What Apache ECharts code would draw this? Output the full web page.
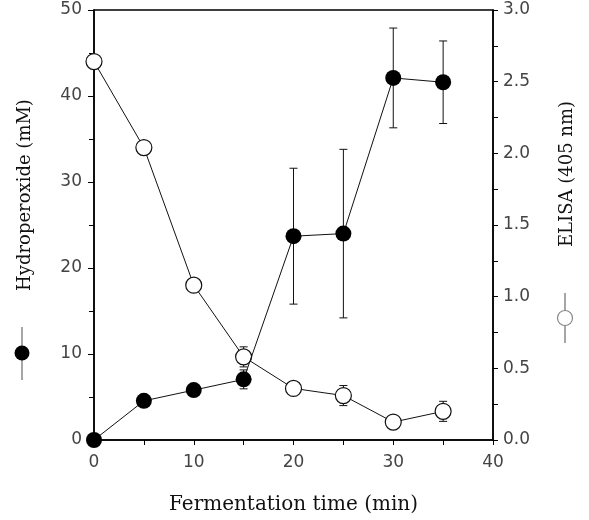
<!DOCTYPE html>
<html><head><meta charset="utf-8">
<script src="https://cdn.jsdelivr.net/npm/echarts@6/dist/echarts.min.js"></script>
<style>html,body{margin:0;padding:0;background:#fff}#c{width:589px;height:520px}</style>
</head><body><div id="c"></div>
<script>
const times = [0, 5, 10, 15, 20, 25, 30, 35];
const hydroperoxide = [0, 4.55, 5.8, 7.05, 23.7, 24.0, 42.1, 41.6];
const hydroErr = [0, 0, 0, 1.1, 7.9, 9.8, 5.8, 4.8];
const elisa = [2.64, 2.04, 1.08, 0.58, 0.36, 0.31, 0.125, 0.20];
const elisaErr = [0, 0, 0, 0.07, 0, 0.07, 0, 0.07];
const xTitle = 'Fermentation time (min)';
const leftTitle = 'Hydroperoxide (mM)';
const rightTitle = 'ELISA (405 nm)';

const chart = echarts.init(document.getElementById('c'));
const tickFont = {fontFamily: 'DejaVu Sans', fontSize: 17, color: '#444'};
const axisLine = {lineStyle: {color: '#000', width: 1.5}};
const titleFont = '18px "DejaVu Serif"';

function errSeries(vals, errs, yIdx) {
  const data = times.map((t, i) => [t, vals[i], errs[i]]).filter(d => d[2] > 0);
  return {
    type: 'custom', yAxisIndex: yIdx, z: 1, silent: true,
    data: data,
    renderItem: function (params, api) {
      const x = api.value(0), y = api.value(1), e = api.value(2);
      const top = api.coord([x, y + e]);
      const bot = api.coord([x, y - e]);
      const cw = 4;
      const st = {stroke: '#111', lineWidth: 1};
      return {type: 'group', children: [
        {type: 'line', shape: {x1: top[0], y1: top[1], x2: bot[0], y2: bot[1]}, style: st},
        {type: 'line', shape: {x1: top[0] - cw, y1: top[1], x2: top[0] + cw, y2: top[1]}, style: st},
        {type: 'line', shape: {x1: bot[0] - cw, y1: bot[1], x2: bot[0] + cw, y2: bot[1]}, style: st}
      ]};
    }
  };
}

chart.setOption({
  animation: false,
  grid: {left: 94, right: 96, top: 10, bottom: 78, show: true, borderColor: '#000', borderWidth: 1.5, backgroundColor: 'transparent'},
  xAxis: {
    type: 'value', min: 0, max: 40, interval: 10,
    axisLine: axisLine, splitLine: {show: false},
    axisTick: {show: true, length: 5, lineStyle: {color: '#000'}},
    minorTick: {show: true, splitNumber: 2, length: 5, lineStyle: {color: '#000'}},
    axisLabel: Object.assign({margin: 14}, tickFont),
    name: xTitle, nameLocation: 'middle', nameGap: 55,
    nameTextStyle: {fontFamily: 'DejaVu Serif', fontSize: 20, color: '#111'}
  },
  yAxis: [{
    type: 'value', min: 0, max: 50, interval: 10, position: 'left',
    axisLine: Object.assign({onZero: false}, axisLine), splitLine: {show: false},
    axisTick: {show: true, length: 6, lineStyle: {color: '#000'}},
    minorTick: {show: true, splitNumber: 2, length: 5, lineStyle: {color: '#000'}},
    axisLabel: Object.assign({margin: 12}, tickFont)
  }, {
    type: 'value', min: 0, max: 3, interval: 0.5, position: 'right',
    axisLine: Object.assign({onZero: false}, axisLine), splitLine: {show: false},
    axisTick: {show: true, length: 5, lineStyle: {color: '#000'}},
    minorTick: {show: true, splitNumber: 2, length: 5, lineStyle: {color: '#000'}},
    axisLabel: Object.assign({margin: 10, formatter: v => v.toFixed(1)}, tickFont)
  }],
  series: [
    errSeries(hydroperoxide, hydroErr, 0),
    errSeries(elisa, elisaErr, 1),
    {
      type: 'line', yAxisIndex: 1, z: 2,
      data: times.map((t, i) => [t, elisa[i]]),
      symbol: 'circle', symbolSize: 16, showAllSymbol: true,
      lineStyle: {color: '#111', width: 1},
      itemStyle: {color: '#fff', borderColor: '#111', borderWidth: 1.2}
    },
    {
      type: 'line', yAxisIndex: 0, z: 3,
      data: times.map((t, i) => [t, hydroperoxide[i]]),
      symbol: 'circle', symbolSize: 16, showAllSymbol: true,
      lineStyle: {color: '#111', width: 1},
      itemStyle: {color: '#000', borderColor: '#000', borderWidth: 0}
    }
  ],
  graphic: [
    {type: 'text', x: 25, y: 195, rotation: Math.PI / 2,
     style: {text: leftTitle, font: titleFont, fill: '#111', align: 'center', verticalAlign: 'middle'}},
    {type: 'line', shape: {x1: 22, y1: 327, x2: 22, y2: 380}, style: {stroke: '#888', lineWidth: 1.5}},
    {type: 'circle', shape: {cx: 22, cy: 353, r: 7.5}, style: {fill: '#000'}},
    {type: 'text', x: 567, y: 174, rotation: Math.PI / 2,
     style: {text: rightTitle, font: titleFont, fill: '#111', align: 'center', verticalAlign: 'middle'}},
    {type: 'line', shape: {x1: 565, y1: 293, x2: 565, y2: 343}, style: {stroke: '#888', lineWidth: 1.5}},
    {type: 'circle', shape: {cx: 565, cy: 318, r: 7.5}, style: {fill: '#fff', stroke: '#888', lineWidth: 1.2}}
  ]
});
</script></body></html>
